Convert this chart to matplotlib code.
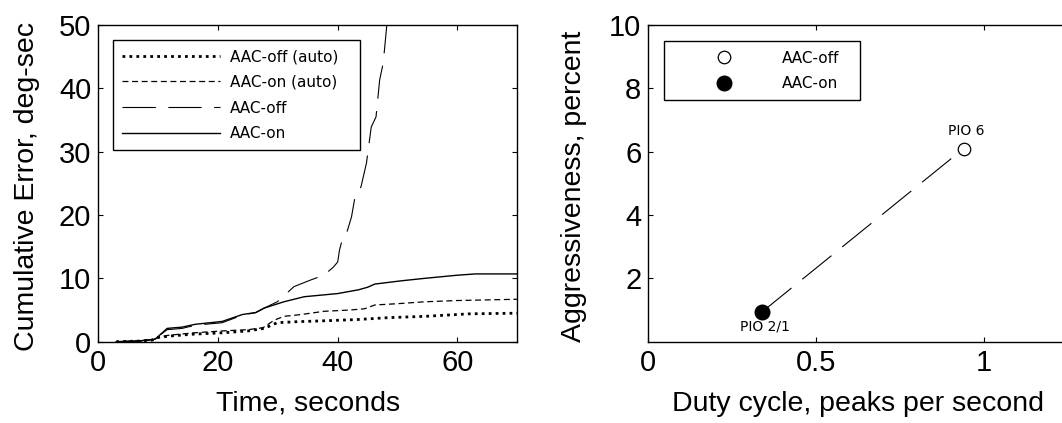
import matplotlib
matplotlib.use("Agg")
import matplotlib.pyplot as plt

plt.rcParams['font.family'] = ['Liberation Sans', 'DejaVu Sans']
plt.rcParams['lines.scale_dashes'] = False

# ---------------- data (left panel) ----------------
t_off_auto = [3, 7, 9, 9.8, 12, 16, 20.7, 25, 27.7, 29.9, 33, 37.7, 43.3, 48.5, 54.5, 62, 70]
v_off_auto = [0, 0.1, 0.25, 0.65, 0.9, 1.2, 1.4, 1.7, 2.1, 3.0, 3.15, 3.3, 3.5, 3.8, 4.0, 4.4, 4.5]

t_on_auto = [3, 7, 9, 10.2, 11.6, 16, 20.7, 25, 27.5, 29.4, 31, 34, 37.7, 42, 44.5, 46.2, 50, 54.5, 60, 65, 70]
v_on_auto = [0, 0.1, 0.3, 0.7, 1.0, 1.4, 1.7, 1.9, 2.2, 3.4, 4.0, 4.3, 4.8, 5.0, 5.2, 5.8, 6.0, 6.3, 6.5, 6.6, 6.7]

t_off = [3, 7, 9.5, 11.5, 14, 16.2, 20.7, 24.1, 26.3, 27.7, 29.9, 32.7, 35.5, 37.7, 39.3, 40.0,
         40.3, 40.9, 41.6, 42.3, 42.8, 43.9, 44.8, 45.6, 46.4, 47.0, 47.6, 48.2, 48.5]
v_off = [0, 0.1, 0.5, 1.9, 2.1, 2.6, 3.0, 4.2, 4.6, 5.3, 6.3, 8.7, 9.75, 10.5, 11.8, 12.6,
         14.5, 16.6, 17.5, 19.7, 22.4, 24.5, 28.2, 33.9, 35.5, 41.3, 44.0, 50.0, 52.0]

t_on = [3, 7, 9.5, 11.5, 14, 16.2, 20.7, 24.1, 26.3, 27.7, 31, 34.4, 40, 43.5, 45, 46.2,
        50.5, 54.5, 60, 63, 70]
v_on = [0, 0.15, 0.4, 2.1, 2.3, 2.75, 3.2, 4.3, 4.6, 5.3, 6.3, 7.1, 7.6, 8.2, 8.6, 9.1,
        9.6, 10.0, 10.5, 10.7, 10.7]

left_labels = ['AAC-off (auto)', 'AAC-on (auto)', 'AAC-off', 'AAC-on']
left_xticks = [0, 20, 40, 60]
left_yticks = [0, 10, 20, 30, 40, 50]

# ---------------- data (right panel) ----------------
duty_off, aggr_off = 0.94, 6.1
duty_on, aggr_on = 0.34, 0.95
right_labels = ['AAC-off', 'AAC-on']
point_names = ['PIO 6', 'PIO 2/1']
right_xticks = [0, 0.5, 1]
right_yticks = [2, 4, 6, 8, 10]

W, H = 1062, 423
fig = plt.figure(figsize=(W / 100, H / 100), dpi=100)

ax1 = fig.add_axes([98.3 / W, (H - 341.7) / H, 419.0 / W, 316.7 / H])
ax2 = fig.add_axes([648.3 / W, (H - 341.7) / H, 419.4 / W, 316.7 / H])

tick_fs = 21
label_fs = 20.5
leg_fs = 11

# left panel
ax1.plot(t_off_auto, v_off_auto, color='black', lw=2.0, dashes=(2.0, 3.0),
         label=left_labels[0])
ax1.plot(t_on_auto, v_on_auto, color='black', lw=0.9, dashes=(4.3, 2.6),
         label=left_labels[1])
ax1.plot(t_off, v_off, color='black', lw=0.8, dashes=(24, 9),
         label=left_labels[2])
ax1.plot(t_on, v_on, color='black', lw=1.0, label=left_labels[3])

ax1.set_xlim(0, 70)
ax1.set_ylim(0, 50)
ax1.set_xticks(left_xticks)
ax1.set_yticks(left_yticks)
ax1.set_xlabel('Time, seconds', fontsize=label_fs)
ax1.set_ylabel('Cumulative Error, deg-sec', fontsize=label_fs)

leg1 = ax1.legend(loc='upper left', bbox_to_anchor=(0.0344, 0.0, 0.589, 0.9527),
                  mode='expand', borderaxespad=0, fancybox=False, framealpha=1,
                  edgecolor='black', handlelength=6.4,
                  handletextpad=0.65, borderpad=0.6, labelspacing=0.7,
                  prop={'family': 'DejaVu Sans', 'size': leg_fs})
leg1.get_frame().set_linewidth(1.0)

# right panel
ax2.plot([duty_on, duty_off], [aggr_on, aggr_off], color='black', lw=0.8,
         dashes=(27, 10), zorder=2)
ax2.plot([duty_off], [aggr_off], linestyle='none', marker='o', markersize=9,
         markerfacecolor='white', markeredgecolor='black', markeredgewidth=0.9,
         label=right_labels[0], zorder=3)
ax2.plot([duty_on], [aggr_on], linestyle='none', marker='o', markersize=10.5,
         markerfacecolor='black', markeredgecolor='black',
         label=right_labels[1], zorder=3)
ax2.annotate(point_names[0], xy=(duty_off, aggr_off), xytext=(2, 7.5),
             textcoords='offset points', ha='center', va='bottom',
             fontsize=10, family='DejaVu Sans')
ax2.annotate(point_names[1], xy=(duty_on, aggr_on), xytext=(2, -6),
             textcoords='offset points', ha='center', va='top',
             fontsize=10, family='DejaVu Sans')

ax2.set_xlim(0, 1.25)
ax2.set_ylim(0, 10)
ax2.set_xticks(right_xticks)
ax2.set_xticklabels(['0', '0.5', '1'])
ax2.set_yticks(right_yticks)
ax2.set_xlabel('Duty cycle, peaks per second', fontsize=label_fs)
ax2.set_ylabel('Aggressiveness, percent', fontsize=label_fs)

leg2 = ax2.legend(loc='upper left', bbox_to_anchor=(0.0374, 0.0, 0.468, 0.948),
                  mode='expand', borderaxespad=0, fancybox=False, framealpha=1,
                  edgecolor='black', handlelength=6.7, handletextpad=0.4,
                  borderpad=0.6, labelspacing=0.7, numpoints=1,
                  prop={'family': 'DejaVu Sans', 'size': leg_fs})
leg2.get_frame().set_linewidth(1.0)

for ax in (ax1, ax2):
    ax.tick_params(direction='in', length=3.6, width=0.8, top=True, right=True,
                   labelsize=tick_fs, pad=5)
    for s in ax.spines.values():
        s.set_linewidth(1.0)

ax1.yaxis.set_label_coords(-0.14, 0.49)
ax1.xaxis.set_label_coords(0.5, -0.155)
ax2.yaxis.set_label_coords(-0.145, 0.49)
ax2.xaxis.set_label_coords(0.5, -0.155)

fig.savefig('out.png', dpi=100)
